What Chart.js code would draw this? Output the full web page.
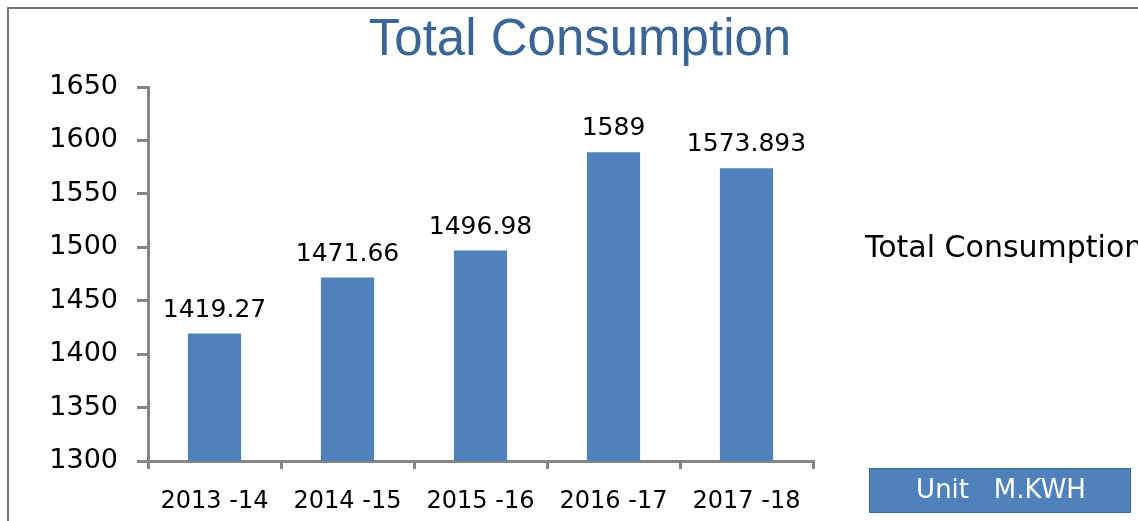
<!DOCTYPE html>
<html>
<head>
<meta charset="utf-8">
<style>
  html, body { margin: 0; padding: 0; background: #fff; }
  #wrap { width: 1138px; height: 521px; }
</style>
<script src="https://cdn.jsdelivr.net/npm/chart.js@4/dist/chart.umd.min.js"></script>
</head>
<body>
<div id="wrap"><canvas id="grafico" width="1138" height="521"></canvas></div>
<script>
// Dados do gráfico
const anos = ["2013 -14", "2014 -15", "2015 -16", "2016 -17", "2017 -18"];
const consumo = [1419.27, 1471.66, 1496.98, 1589, 1573.893];
const nomeSerie = "Total Consumption";
const unidade = "Unit   M.KWH";
const eixoMin = 1300;
const eixoMax = 1650;
const passo = 50;

const corBarra = "#4f81bd";
const corEixo = "#868686";
const fonte = "'DejaVu Sans', Verdana, sans-serif";

// Desenha moldura, título, rótulos das barras, legenda e caixa da unidade
const extras = {
    id: "extras",
    afterDraw(chart) {
        const ctx = chart.ctx;
        ctx.save();

        // moldura externa
        ctx.strokeStyle = "#767676";
        ctx.lineWidth = 2;
        ctx.strokeRect(8, 8, 1200, 600);

        // título
        ctx.fillStyle = "#3b6596";
        ctx.font = "51px 'Liberation Sans', Arial, sans-serif";
        ctx.textAlign = "center";
        ctx.textBaseline = "alphabetic";
        ctx.fillText(nomeSerie, 580, 55);

        // valores acima das barras
        const meta = chart.getDatasetMeta(0);
        ctx.fillStyle = "#000";
        ctx.font = "25px " + fonte;
        meta.data.forEach((bar, i) => {
            ctx.fillText(String(consumo[i]), bar.x, bar.y - 17);
        });

        // legenda (sem marcador)
        ctx.font = "30px " + fonte;
        ctx.textAlign = "left";
        ctx.fillText(nomeSerie, 865, 257);

        // caixa da unidade
        ctx.fillStyle = corBarra;
        ctx.fillRect(869, 468, 261, 44);
        ctx.strokeStyle = "#3a6a9e";
        ctx.lineWidth = 1;
        ctx.strokeRect(869.5, 468.5, 261, 44);
        ctx.fillStyle = "#fff";
        ctx.font = "26px " + fonte;
        ctx.textAlign = "center";
        ctx.textBaseline = "middle";
        ctx.fillText(unidade, 1001, 491);

        ctx.restore();
    }
};

function graficoConsumo() {
    const ctx = document.getElementById("grafico");

    new Chart(ctx, {
        type: "bar",
        data: {
            labels: anos,
            datasets: [{
                label: nomeSerie,
                data: consumo,
                backgroundColor: corBarra,
                borderWidth: 0,
                categoryPercentage: 1,
                barPercentage: 0.4
            }]
        },
        options: {
            responsive: false,
            animation: false,
            devicePixelRatio: 1,
            layout: { padding: { left: 0, right: 325, top: 87, bottom: 0 } },
            plugins: {
                legend: { display: false },
                tooltip: { enabled: false },
                title: { display: false }
            },
            scales: {
                x: {
                    afterFit(s) { s.height = 60; },
                    grid: {
                        offset: true,
                        drawOnChartArea: false,
                        drawTicks: true,
                        tickLength: 8,
                        color: corEixo,
                        lineWidth: 3
                    },
                    border: { display: true, color: corEixo, width: 3 },
                    ticks: {
                        color: "#000",
                        font: { family: fonte, size: 24 },
                        padding: 18,
                        maxRotation: 0
                    }
                },
                y: {
                    min: eixoMin,
                    max: eixoMax,
                    afterFit(s) { s.width = 148; },
                    grid: {
                        drawOnChartArea: false,
                        drawTicks: true,
                        tickLength: 11,
                        color: corEixo,
                        lineWidth: 3
                    },
                    border: { display: true, color: corEixo, width: 3 },
                    ticks: {
                        stepSize: passo,
                        color: "#000",
                        font: { family: fonte, size: 27 },
                        padding: 19,
                        callback: (v) => String(v)
                    }
                }
            }
        },
        plugins: [extras]
    });
}

graficoConsumo();
</script>
</body>
</html>
